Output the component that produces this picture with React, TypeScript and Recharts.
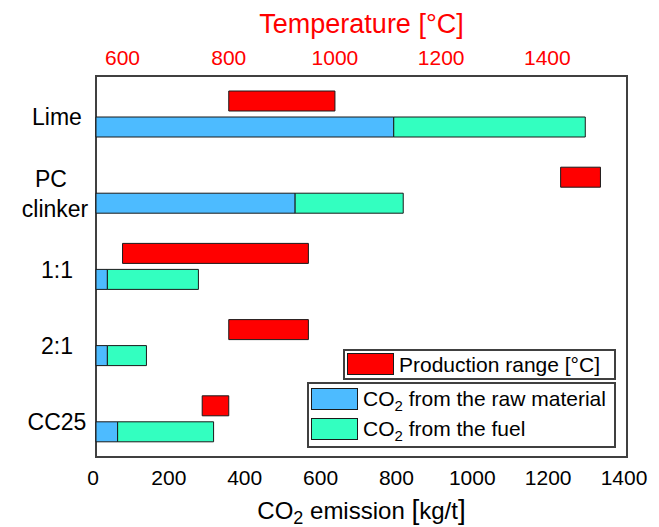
import React from "react";
import {
  Bar,
  BarChart,
  Legend,
  ReferenceArea,
  XAxis,
  YAxis,
} from "recharts";

const categories = ["Lime", "PC clinker", "1:1", "2:1", "CC25"];
const tempLow = [800, 1425, 600, 800, 750];
const tempHigh = [1000, 1500, 950, 950, 800];
const rawCO2 = [785, 525, 30, 30, 57];
const fuelCO2 = [505, 285, 240, 103, 253];
const kgTicks = [0, 200, 400, 600, 800, 1000, 1200, 1400];
const tempTicks = [600, 800, 1000, 1200, 1400];

// the red range is drawn as an invisible base plus the visible span, so it
// sits in its own stack slot above the CO2 stack
const data = categories.map((name, i) => ({
  name,
  low: tempLow[i],
  span: tempHigh[i] - tempLow[i],
  raw: rawCO2[i],
  fuel: fuelCO2[i],
}));

const FONT = "'Liberation Sans', Arial, sans-serif";
const RED = "#ff0000";
const BLUE = "#4dbbff";
const GREEN = "#33ffc0";
const EDGE = "#1a1a1a";

const CatTick = ({ y, payload }: any) => {
  const words = String(payload.value).split(" ");
  if (words.length > 1) {
    return (
      <text textAnchor="middle" fontSize={23} fontFamily={FONT} fill="#000">
        <tspan x={51} y={y - 3}>
          {words[0]}
        </tspan>
        <tspan x={55} y={y + 26.5}>
          {words[1]}
        </tspan>
      </text>
    );
  }
  return (
    <text x={57} y={y + 11} textAnchor="middle" fontSize={23} fontFamily={FONT} fill="#000">
      {payload.value}
    </text>
  );
};

const KgTick = ({ x, y, payload }: any) => (
  <text x={x - 3} y={y + 26} textAnchor="middle" fontSize={21} fontFamily={FONT} fill="#000">
    {payload.value}
  </text>
);

const TempTick = ({ x, y, payload }: any) => (
  <text x={x} y={y - 9} textAnchor="middle" fontSize={21} fontFamily={FONT} fill={RED}>
    {payload.value}
  </text>
);

const TempTitle = ({ viewBox }: any) => (
  <text
    x={viewBox.x + viewBox.width / 2}
    y={33}
    textAnchor="middle"
    fontSize={27}
    fontFamily={FONT}
    fill={RED}
  >
    Temperature [°C]
  </text>
);

const KgTitle = ({ viewBox }: any) => (
  <text
    x={viewBox.x + viewBox.width / 2}
    y={viewBox.y + 62}
    textAnchor="middle"
    fontSize={24}
    fontFamily={FONT}
    fill="#000"
  >
    <tspan>CO</tspan>
    <tspan fontSize={18} dy={5}>
      2
    </tspan>
    <tspan dy={-5}> emission </tspan>
    <tspan fontSize={28}>[</tspan>
    <tspan>kg/t</tspan>
    <tspan fontSize={28}>]</tspan>
  </text>
);

const swatch = (left: number, top: number, color: string): React.CSSProperties => ({
  position: "absolute",
  left,
  top,
  width: 47,
  height: 22,
  background: color,
  border: `1.5px solid ${EDGE}`,
  boxSizing: "border-box",
});

const label = (left: number, top: number): React.CSSProperties => ({
  position: "absolute",
  left,
  top,
  lineHeight: "21px",
  whiteSpace: "nowrap",
});

const box = (left: number, top: number, width: number, height: number): React.CSSProperties => ({
  position: "absolute",
  left,
  top,
  width,
  height,
  border: "2px solid #404040",
  boxSizing: "border-box",
  background: "#fff",
});

const LegendBoxes = () => (
  <div style={{ position: "relative", width: 310, height: 100, fontFamily: FONT, fontSize: 21, color: "#000" }}>
    <div style={box(36, 0, 273, 31)} />
    <div style={swatch(40, 4, RED)} />
    <div style={label(92, 5)}>Production range [°C]</div>
    <div style={box(0, 33, 309, 66)} />
    <div style={swatch(4, 39, BLUE)} />
    <div style={label(56, 39)}>
      CO<sub style={{ fontSize: 15 }}>2</sub> from the raw material
    </div>
    <div style={swatch(4, 69, GREEN)} />
    <div style={label(56, 69)}>
      CO<sub style={{ fontSize: 15 }}>2</sub> from the fuel
    </div>
  </div>
);

export default function App() {
  return (
    <div style={{ position: "absolute", left: 0, top: 0, width: 659, height: 527, background: "#fff" }}>
      <BarChart
        width={659}
        height={527}
        data={data}
        layout="vertical"
        margin={{ top: 0, right: 32, bottom: 0, left: 0 }}
        barGap={6}
      >
        <XAxis
          xAxisId="kg"
          type="number"
          orientation="bottom"
          domain={[0, 1400]}
          ticks={kgTicks}
          height={70}
          axisLine={false}
          tickLine={false}
          tickSize={0}
          tick={<KgTick />}
          label={{ content: <KgTitle /> }}
        />
        <XAxis
          xAxisId="temp"
          type="number"
          orientation="top"
          domain={[550, 1550]}
          allowDataOverflow
          ticks={tempTicks}
          height={76}
          axisLine={false}
          tickLine={false}
          tickSize={0}
          tick={<TempTick />}
          label={{ content: <TempTitle /> }}
        />
        <YAxis
          type="category"
          dataKey="name"
          width={96}
          axisLine={false}
          tickLine={false}
          tickSize={0}
          tick={<CatTick />}
        />
        <Bar
          xAxisId="temp"
          dataKey="low"
          stackId="temp"
          barSize={20}
          fill="transparent"
          stroke="none"
          isAnimationActive={false}
        />
        <Bar
          xAxisId="temp"
          dataKey="span"
          stackId="temp"
          barSize={20}
          fill={RED}
          stroke={EDGE}
          strokeWidth={1}
          isAnimationActive={false}
        />
        <Bar
          xAxisId="kg"
          dataKey="raw"
          stackId="co2"
          barSize={20}
          fill={BLUE}
          stroke={EDGE}
          strokeWidth={1}
          isAnimationActive={false}
        />
        <Bar
          xAxisId="kg"
          dataKey="fuel"
          stackId="co2"
          barSize={20}
          fill={GREEN}
          stroke={EDGE}
          strokeWidth={1}
          isAnimationActive={false}
        />
        <ReferenceArea
          xAxisId="kg"
          x1={0}
          x2={1400}
          fill="none"
          fillOpacity={0}
          stroke="#404040"
          strokeWidth={2}
        />
        <Legend
          layout="vertical"
          align="center"
          verticalAlign="middle"
          content={<LegendBoxes />}
          wrapperStyle={{ left: 307, top: 349, width: 310, height: 100 }}
        />
      </BarChart>
    </div>
  );
}
